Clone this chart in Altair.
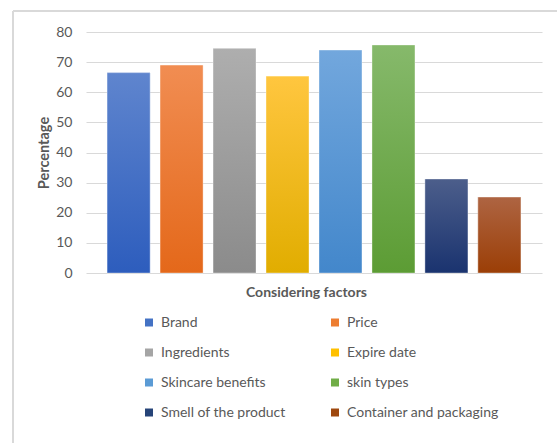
import altair as alt
import pandas as pd

factors = ["Brand", "Price", "Ingredients", "Expire date", "Skincare benefits",
           "skin types", "Smell of the product", "Container and packaging"]
values = [66.5, 69.0, 74.5, 65.3, 74.0, 75.7, 31.2, 25.2]
legend_colors = ["#4472C4", "#ED7D31", "#A5A5A5", "#FFC000", "#5B9BD5",
                 "#70AD47", "#264478", "#9E480E"]
top_colors = ["#5F85CE", "#F18D52", "#AEAEAE", "#FFC63F", "#72A7DD",
              "#86B96B", "#4C5E8B", "#AE6442"]
bottom_colors = ["#2D5DBD", "#E4681A", "#8B8B8B", "#E1AD00", "#4387CB",
                 "#5C9C34", "#1A336F", "#9B3E06"]

# legend fills column by column: reorder so it reads row by row
legend_order = [0, 2, 4, 6, 1, 3, 5, 7]
legend_domain = [factors[i] for i in legend_order]
legend_range = [legend_colors[i] for i in legend_order]

df = pd.DataFrame({"factor": factors, "value": values})

W, H = 456, 241
GRID = "#D9D9D9"
TXT = "#595959"
FONT = "Lato"

xenc = alt.X("factor:N", sort=factors,
             scale=alt.Scale(paddingInner=0.19, paddingOuter=0.4),
             axis=alt.Axis(labels=False, ticks=False, domain=False, grid=False,
                           title="Considering factors", titleFontSize=14,
                           titleFontWeight="bold", titleColor=TXT, titleFont=FONT,
                           titlePadding=12, titleX=W / 2 - 8))
yenc = alt.Y("value:Q", scale=alt.Scale(domain=[0, 80]),
             axis=alt.Axis(values=[0, 10, 20, 30, 40, 50, 60, 70, 80],
                           ticks=False, domain=False, gridColor=GRID, gridWidth=1.2,
                           labelFontSize=14, labelColor=TXT, labelFont=FONT,
                           labelPadding=14, title="Percentage", titleFontSize=14.5,
                           titleFontWeight="bold", titleColor=TXT, titleFont=FONT,
                           titlePadding=4))

base = alt.Chart(df).mark_bar().encode(
    x=xenc, y=yenc,
    color=alt.Color("factor:N",
                    scale=alt.Scale(domain=legend_domain, range=legend_range),
                    legend=alt.Legend(orient="none", legendX=56, legendY=283.5,
                                      columns=2, title=None, symbolType="square",
                                      symbolSize=64, symbolStrokeWidth=0,
                                      labelFontSize=14, labelColor=TXT, labelFont=FONT,
                                      columnPadding=42, rowPadding=16,
                                      labelOffset=5, padding=0, labelLimit=300)))

layers = [base]
for f, t, b in zip(factors, top_colors, bottom_colors):
    layers.append(
        alt.Chart(df).transform_filter(alt.datum.factor == f).mark_bar(
            color=alt.Gradient(gradient="linear",
                               stops=[alt.GradientStop(color=t, offset=0),
                                      alt.GradientStop(color=b, offset=1)],
                               x1=0, x2=0, y1=0, y2=1),
            stroke="#FFFFFF", strokeOpacity=0.35, strokeWidth=1
        ).encode(x=xenc, y=yenc)
    )

top_border = alt.Chart(df).mark_rule(stroke=GRID, strokeWidth=1.5).encode(
    x=alt.value(-73), x2=alt.value(W + 40), y=alt.value(-21), y2=alt.value(-21))
left_border = alt.Chart(df).mark_rule(stroke=GRID, strokeWidth=1.5).encode(
    x=alt.value(-73), x2=alt.value(-73), y=alt.value(-21), y2=alt.value(H + 220))

chart = alt.layer(top_border, left_border, *layers).properties(
    width=W, height=H,
    autosize=alt.AutoSizeParams(type="none"),
    padding={"left": 86, "top": 32, "right": 15, "bottom": 170},
).configure_view(stroke=None)

chart.save("out.html", embed_options={"renderer": "svg", "actions": False})
